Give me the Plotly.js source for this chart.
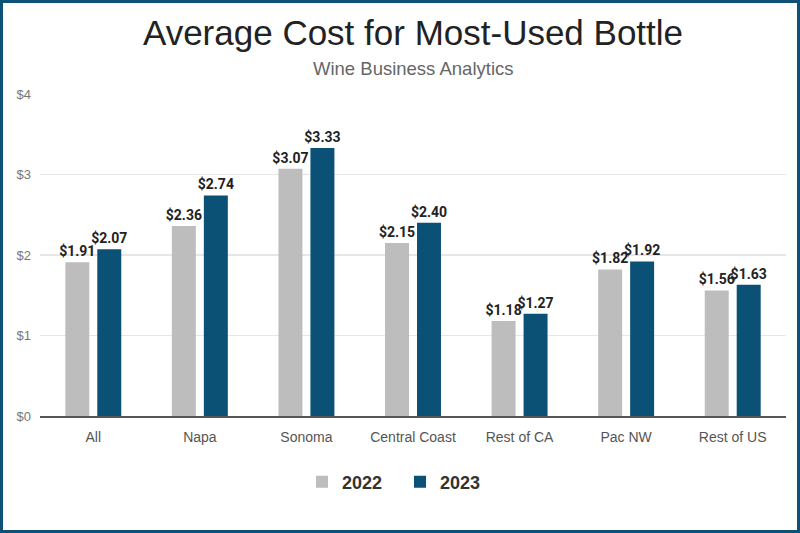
<!DOCTYPE html>
<html>
<head>
<meta charset="utf-8">
<script src="https://cdn.plot.ly/plotly-3.0.1.min.js"></script>
<style>
html,body{margin:0;padding:0;background:#fff;}
#wrap{position:relative;width:800px;height:533px;}
#chart{position:absolute;left:0;top:0;width:800px;height:533px;}
#frame{position:absolute;left:0;top:0;width:800px;height:533px;box-sizing:border-box;border:3px solid #0d5276;pointer-events:none;}
</style>
</head>
<body>
<div id="wrap"><div id="chart"></div><div id="frame"></div></div>
<script>
const categories = ["All", "Napa", "Sonoma", "Central Coast", "Rest of CA", "Pac NW", "Rest of US"];
const values2022 = [1.91, 2.36, 3.07, 2.15, 1.18, 1.82, 1.56];
const values2023 = [2.07, 2.74, 3.33, 2.40, 1.27, 1.92, 1.63];
const yTickVals = [0, 1, 2, 3, 4];
const yTickText = ["$0", "$1", "$2", "$3", "$4"];

const FONT = "Liberation Sans, Arial, sans-serif";
const labelFont = {family: "Roboto, Liberation Sans, sans-serif", size: 14, color: "#222", weight: "bold"};

const traces = [
  {type: "bar", name: "2022", x: categories, y: values2022,
   marker: {color: "#bdbdbd"},
   texttemplate: "<b>$%{y:.2f}</b>", textposition: "outside", textfont: labelFont, constraintext: "none",
   cliponaxis: false, hoverinfo: "x+y"},
  {type: "bar", name: "2023", x: categories, y: values2023,
   marker: {color: "#0b5175"},
   texttemplate: "<b>$%{y:.2f}</b>", textposition: "outside", textfont: labelFont, constraintext: "none",
   cliponaxis: false, hoverinfo: "x+y"}
];

const layout = {
  width: 800, height: 533,
  margin: {l: 40, r: 14, t: 94, b: 117},
  paper_bgcolor: "#fff", plot_bgcolor: "#fff",
  font: {family: FONT},
  title: {text: "Average Cost for Most-Used Bottle", font: {family: FONT, size: 35, color: "#222"},
          x: 0.5, xanchor: "center", xref: "paper", y: 1 - 33/533, yref: "container", yanchor: "middle"},
  annotations: [{text: "Wine Business Analytics", xref: "paper", yref: "paper", x: 0.5, y: (416-69)/322,
                 xanchor: "center", yanchor: "middle", showarrow: false,
                 font: {family: FONT, size: 18.5, color: "#666"}}],
  barmode: "group", bargap: 0.40, bargroupgap: 0.25,
  xaxis: {type: "category", tickfont: {family: FONT, size: 14, color: "#555"}, showgrid: false,
          ticks: "outside", ticklen: 8, tickcolor: "rgba(0,0,0,0)", showline: true, linecolor: "#555", linewidth: 1.5},
  yaxis: {range: [0, 4], tickvals: yTickVals, ticktext: yTickText, showgrid: true, gridcolor: "#e6e6e6",
          gridwidth: 1.5, zeroline: false, showline: false, ticks: "", ticklabelstandoff: 8,
          tickfont: {family: FONT, size: 13, color: "#777"}},
  showlegend: true,
  legend: {orientation: "h", x: (400-40)/746, xanchor: "center", y: -(482-416)/322, yanchor: "middle",
           font: {family: FONT, size: 18, color: "#333", weight: "bold"}, itemwidth: 30,
           entrywidth: 53, entrywidthmode: "pixels"}
};

Plotly.newPlot("chart", traces, layout, {displayModeBar: false, staticPlot: true});
</script>
</body>
</html>
